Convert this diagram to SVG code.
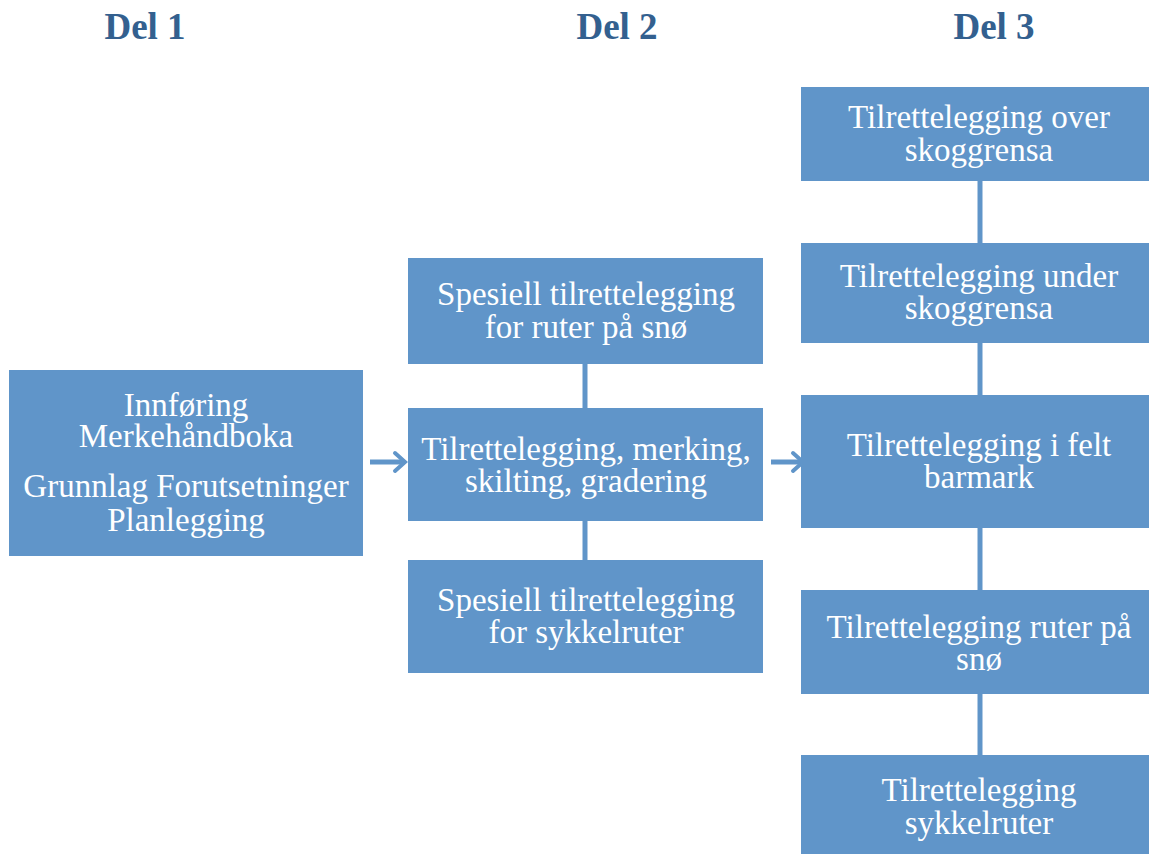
<svg xmlns="http://www.w3.org/2000/svg" width="1149" height="854" viewBox="0 0 1149 854">
<style>
.box{fill:#6095c9;}
.t{font-family:"Liberation Serif","DejaVu Serif",serif;font-size:33px;fill:#ffffff;text-anchor:middle;}
.h{font-family:"Liberation Serif","DejaVu Serif",serif;font-size:37px;font-weight:bold;fill:#33608f;text-anchor:middle;}
.c{stroke:#6095c9;stroke-width:5;fill:none;}
</style>
<defs>
<marker id="ah" markerWidth="10" markerHeight="10" refX="7" refY="5" orient="auto" markerUnits="userSpaceOnUse" viewBox="0 0 10 10" overflow="visible">
<path d="M-3,-4 L7,5 L-3,14" fill="none" stroke="#6095c9" stroke-width="4" stroke-linecap="round"/>
</marker>
</defs>
<rect width="1149" height="854" fill="#ffffff"/>
<g id="titles">
<text class="h" x="145" y="39">Del 1</text>
<text class="h" x="617" y="39">Del 2</text>
<text class="h" x="994" y="39">Del 3</text>
</g>
<g id="connectors">
<line class="c" x1="585" y1="364" x2="585" y2="408"/>
<line class="c" x1="585" y1="521" x2="585" y2="560"/>
<line class="c" x1="980" y1="181" x2="980" y2="243"/>
<line class="c" x1="980" y1="343" x2="980" y2="395"/>
<line class="c" x1="980" y1="528" x2="980" y2="590"/>
<line class="c" x1="980" y1="694" x2="980" y2="755"/>
<line class="c" x1="370" y1="462" x2="405" y2="462" marker-end="url(#ah)"/>
<line class="c" x1="771" y1="462" x2="803" y2="462" marker-end="url(#ah)"/>
</g>
<g id="del1">
<rect class="box" x="9" y="370" width="354" height="186"/>
<text class="t" x="186" y="416">Innføring</text>
<text class="t" x="186" y="447">Merkehåndboka</text>
<text class="t" x="186" y="497">Grunnlag Forutsetninger</text>
<text class="t" x="186" y="531">Planlegging</text>
</g>
<g id="del2-sno">
<rect class="box" x="408" y="258" width="355" height="106"/>
<text class="t" x="586" y="305">Spesiell tilrettelegging</text>
<text class="t" x="586" y="338">for ruter på snø</text>
</g>
<g id="del2-main">
<rect class="box" x="408" y="408" width="355" height="113"/>
<text class="t" x="586" y="460">Tilrettelegging, merking,</text>
<text class="t" x="586" y="492">skilting, gradering</text>
</g>
<g id="del2-sykkel">
<rect class="box" x="408" y="560" width="355" height="113"/>
<text class="t" x="586" y="611">Spesiell tilrettelegging</text>
<text class="t" x="586" y="643">for sykkelruter</text>
</g>
<g id="del3-over">
<rect class="box" x="801" y="87" width="348" height="94"/>
<text class="t" x="979" y="128">Tilrettelegging over</text>
<text class="t" x="979" y="161">skoggrensa</text>
</g>
<g id="del3-under">
<rect class="box" x="801" y="243" width="348" height="100"/>
<text class="t" x="979" y="287">Tilrettelegging under</text>
<text class="t" x="979" y="319">skoggrensa</text>
</g>
<g id="del3-barmark">
<rect class="box" x="801" y="395" width="348" height="133"/>
<text class="t" x="979" y="456">Tilrettelegging i felt</text>
<text class="t" x="979" y="488">barmark</text>
</g>
<g id="del3-sno">
<rect class="box" x="801" y="590" width="348" height="104"/>
<text class="t" x="979" y="638">Tilrettelegging ruter på</text>
<text class="t" x="979" y="670">snø</text>
</g>
<g id="del3-sykkel">
<rect class="box" x="801" y="755" width="348" height="99"/>
<text class="t" x="979" y="801">Tilrettelegging</text>
<text class="t" x="979" y="834">sykkelruter</text>
</g>
</svg>
